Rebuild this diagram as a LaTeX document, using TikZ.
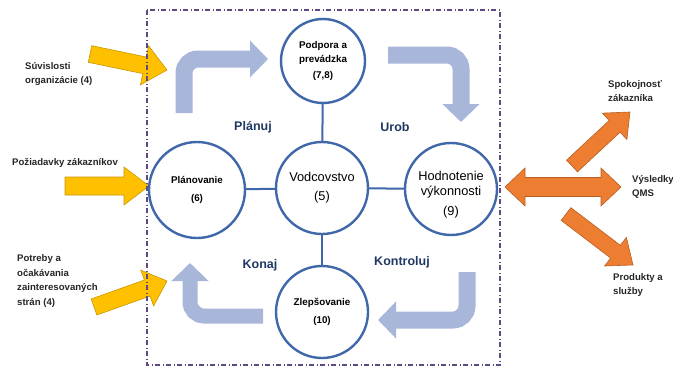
\documentclass[tikz,border=0pt]{standalone}
\usepackage{fontspec}
\setmainfont{Liberation Sans}
\definecolor{qmsBlue}{HTML}{3F67A9}
\definecolor{qmsArrow}{HTML}{A8B6DA}
\definecolor{qmsGold}{HTML}{FFC000}
\definecolor{qmsGoldEdge}{HTML}{C99700}
\definecolor{qmsOrange}{HTML}{ED7D31}
\definecolor{qmsOrangeEdge}{HTML}{B85F22}
\definecolor{qmsNavy}{HTML}{1F3864}
\definecolor{qmsFrame}{HTML}{5E4A7E}
\usepackage{tikz}
\usetikzlibrary{arrows.meta, calc}
% block arrow: style, from, to, half shaft, half head, head length
\newcommand{\blockarrow}[6]{%
  \coordinate (ba-h) at ($(#3)!#6!(#2)$);
  \draw[#1] ($(#2)!#4!90:(#3)$) -- ($(ba-h)!#4!90:(#3)$) -- ($(ba-h)!#5!90:(#3)$)
    -- (#3) -- ($(ba-h)!#5!-90:(#3)$) -- ($(ba-h)!#4!-90:(#3)$)
    -- ($(#2)!#4!-90:(#3)$) -- cycle;}
\newcommand{\doublearrow}[6]{%
  \coordinate (da-a) at ($(#2)!#6!(#3)$);
  \coordinate (da-b) at ($(#3)!#6!(#2)$);
  \draw[#1] (#2) -- ($(da-a)!#5!90:(#3)$) -- ($(da-a)!#4!90:(#3)$)
    -- ($(da-b)!#4!90:(#3)$) -- ($(da-b)!#5!90:(#3)$) -- (#3)
    -- ($(da-b)!#5!-90:(#3)$) -- ($(da-b)!#4!-90:(#3)$)
    -- ($(da-a)!#4!-90:(#3)$) -- ($(da-a)!#5!-90:(#3)$) -- cycle;}

\begin{document}
\begin{tikzpicture}[x=1pt, y=-1pt,
  stage/.style={circle, draw=qmsBlue, line width=2.4pt, fill=white, inner sep=0pt,
    align=center, minimum size=92pt, font=\fontsize{9.8}{13.5}\selectfont\bfseries},
  bigstage/.style={stage, font=\fontsize{12.8}{15}\selectfont},
  link/.style={draw=qmsBlue, line width=2pt},
  phase/.style={font=\fontsize{12.5}{15}\selectfont\bfseries, text=qmsNavy},
  note/.style={anchor=west, align=left, inner sep=0pt, text=black!85,
    font=\fontsize{9.6}{14.5}\selectfont\bfseries},
  cyclearrow/.style={draw=qmsArrow, line width=17pt, rounded corners=14pt,
    -{Triangle[length=18pt, width=36pt]}},
  inflow/.style={fill=qmsGold, draw=qmsGoldEdge, line width=0.6pt},
  outflow/.style={fill=qmsOrange, draw=qmsOrangeEdge, line width=0.6pt},
  qmsbox/.style={draw=qmsFrame, line width=1.1pt,
    dash pattern=on 5pt off 2.5pt on 1pt off 2.5pt}]

  \useasboundingbox (0,0) rectangle (673,367);

  \draw[cyclearrow] (184,113) -- (184,59) -- (268,59);
  \draw[cyclearrow] (388,55) -- (461,55) -- (461,122);
  \draw[cyclearrow] (467,272) -- (467,320) -- (378,320);
  \draw[cyclearrow, line width=15pt] (263,316) -- (190,316) -- (190,263);

  \node[phase] (planuj) at (253,127) {Plánuj};
  \node[phase] (urob) at (395,127) {Urob};
  \node[phase] (konaj) at (260,265) {Konaj};
  \node[phase] (kontroluj) at (402,262) {Kontroluj};

  \node[note] (suvislosti) at (25,74) {Súvislosti\\organizácie (4)};
  \node[note] (poziadavky) at (12,163) {Požiadavky zákazníkov};
  \node[note] (potreby) at (17,281) {Potreby a\\očakávania\\zainteresovaných\\strán (4)};
  \node[note] (spokojnost) at (608,91) {Spokojnosť\\zákazníka};
  \node[note] (vysledky) at (632,187) {Výsledky\\QMS};
  \node[note] (produkty) at (613,285) {Produkty a\\služby};

  \coordinate (in1-s) at (90,54);  \coordinate (in1-e) at (167,70);
  \coordinate (in2-s) at (65,186); \coordinate (in2-e) at (149,186);
  \coordinate (in3-s) at (94,307); \coordinate (in3-e) at (167,281);
  \blockarrow{inflow}{in1-s}{in1-e}{8.5pt}{20pt}{23pt}
  \blockarrow{inflow}{in2-s}{in2-e}{9pt}{19pt}{25pt}
  \blockarrow{inflow}{in3-s}{in3-e}{8.5pt}{19pt}{21pt}

  \coordinate (out1-s) at (572,166); \coordinate (out1-e) at (630,112);
  \coordinate (out2-s) at (505,187); \coordinate (out2-e) at (621,187);
  \coordinate (out3-s) at (566,214); \coordinate (out3-e) at (633,265);
  \blockarrow{outflow}{out1-s}{out1-e}{8pt}{18pt}{21pt}
  \doublearrow{outflow}{out2-s}{out2-e}{9.5pt}{19pt}{20pt}
  \blockarrow{outflow}{out3-s}{out3-e}{8pt}{18pt}{22pt}

  \draw[qmsbox] (147,10) rectangle (500,365);

  \node[stage, minimum size=84pt] (podpora) at (323,61) {Podpora a\\prevádzka\\[3pt](7,8)};
  \node[bigstage] (vodcovstvo) at (322,188) {Vodcovstvo\\[4pt](5)};
  \node[stage, minimum size=96pt] (planovanie) at (197,190) {Plánovanie\\[4pt](6)};
  \node[bigstage, label={[font=\fontsize{12.8}{15}\selectfont, align=center, yshift=-6pt]center:{Hodnotenie\\výkonnosti\\[5pt](9)}}] (hodnotenie) at (451,189) {};
  \node[stage] (zlepsovanie) at (322,312) {Zlepšovanie\\[4pt](10)};

  \draw[link] (podpora) -- (vodcovstvo);
  \draw[link] (planovanie) -- (vodcovstvo);
  \draw[link] (vodcovstvo) -- (hodnotenie);
  \draw[link] (vodcovstvo) -- (zlepsovanie);
\end{tikzpicture}
\end{document}
